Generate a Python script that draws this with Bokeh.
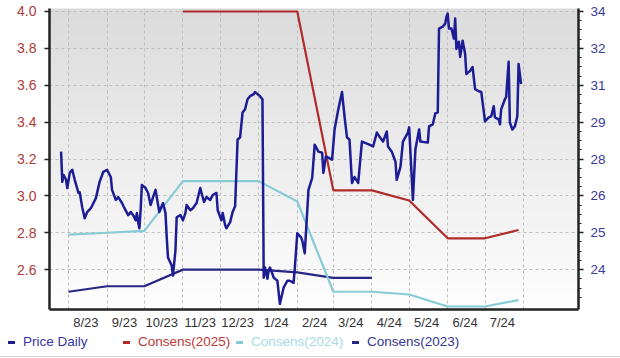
import numpy as np
from bokeh.plotting import figure
from bokeh.layouts import column
from bokeh.models import (Range1d, LinearAxis, FixedTicker, BoxAnnotation,
                          PrintfTickFormatter, Div)
from bokeh.embed import file_html
from bokeh.resources import INLINE

# ---------------- data ----------------
price_dates = [
    "2023-07-26", "2023-07-27", "2023-07-28", "2023-07-30", "2023-07-31", "2023-08-02", "2023-08-04",
    "2023-08-06", "2023-08-09", "2023-08-10", "2023-08-12", "2023-08-14", "2023-08-16", "2023-08-19",
    "2023-08-23", "2023-08-26", "2023-08-29", "2023-09-01", "2023-09-04", "2023-09-05", "2023-09-08",
    "2023-09-10", "2023-09-13", "2023-09-15", "2023-09-18", "2023-09-20", "2023-09-22", "2023-09-24",
    "2023-09-25", "2023-09-26", "2023-09-27", "2023-09-28", "2023-09-29", "2023-10-02", "2023-10-04",
    "2023-10-06", "2023-10-08", "2023-10-10", "2023-10-11", "2023-10-13", "2023-10-16", "2023-10-18",
    "2023-10-19", "2023-10-20", "2023-10-23", "2023-10-24", "2023-10-26", "2023-10-27", "2023-10-30",
    "2023-11-01", "2023-11-03", "2023-11-04", "2023-11-07", "2023-11-09", "2023-11-12", "2023-11-15",
    "2023-11-16", "2023-11-18", "2023-11-20", "2023-11-23", "2023-11-25", "2023-11-28", "2023-11-29",
    "2023-12-02", "2023-12-03", "2023-12-05", "2023-12-06", "2023-12-09", "2023-12-11", "2023-12-13",
    "2023-12-15", "2023-12-17", "2023-12-19", "2023-12-21", "2023-12-23", "2023-12-25", "2023-12-28",
    "2023-12-29", "2023-12-31", "2024-01-02", "2024-01-04", "2024-01-05", "2024-01-06", "2024-01-08",
    "2024-01-09", "2024-01-10", "2024-01-12", "2024-01-13", "2024-01-16", "2024-01-18", "2024-01-21",
    "2024-01-24", "2024-01-26", "2024-01-29", "2024-01-30", "2024-02-01", "2024-02-04", "2024-02-05",
    "2024-02-07", "2024-02-10", "2024-02-13", "2024-02-15", "2024-02-18", "2024-02-21", "2024-02-22",
    "2024-02-24", "2024-02-26", "2024-02-29", "2024-03-02", "2024-03-05", "2024-03-08", "2024-03-10",
    "2024-03-12", "2024-03-14", "2024-03-16", "2024-03-18", "2024-03-21", "2024-03-24", "2024-03-26",
    "2024-03-30", "2024-04-02", "2024-04-05", "2024-04-07", "2024-04-10", "2024-04-13", "2024-04-14",
    "2024-04-17", "2024-04-20", "2024-04-21", "2024-04-24", "2024-04-26", "2024-04-30", "2024-05-01",
    "2024-05-04", "2024-05-06", "2024-05-09", "2024-05-10", "2024-05-16", "2024-05-17", "2024-05-20",
    "2024-05-22", "2024-05-24", "2024-05-25", "2024-05-28", "2024-05-30", "2024-05-31", "2024-06-01",
    "2024-06-02", "2024-06-04", "2024-06-06", "2024-06-07", "2024-06-08", "2024-06-10", "2024-06-11",
    "2024-06-13", "2024-06-15", "2024-06-16", "2024-06-19", "2024-06-21", "2024-06-23", "2024-06-26",
    "2024-06-28", "2024-07-01", "2024-07-04", "2024-07-06", "2024-07-08", "2024-07-09", "2024-07-12",
    "2024-07-13", "2024-07-14", "2024-07-17", "2024-07-18", "2024-07-20", "2024-07-21", "2024-07-23",
    "2024-07-25", "2024-07-27", "2024-07-28", "2024-07-30",
]
price_values = [
    28.57, 27.40, 27.67, 27.48, 27.16, 27.75, 27.87,
    27.48, 26.97, 27.00, 26.42, 25.99, 26.23, 26.38,
    26.77, 27.40, 27.79, 27.87, 27.59, 27.09, 26.70,
    26.81, 26.58, 26.38, 26.11, 26.23, 26.11, 25.91,
    26.19, 25.84, 25.60, 26.30, 27.28, 27.16, 26.97,
    26.50, 26.81, 27.09, 26.81, 26.23, 26.58, 26.19,
    25.25, 24.47, 24.16, 23.77, 24.74, 26.03, 26.11,
    25.91, 26.19, 26.50, 26.30, 26.38, 26.58, 27.16,
    26.97, 26.62, 26.81, 26.70, 26.89, 26.97, 26.30,
    25.91, 26.19, 25.72, 25.60, 25.84, 26.23, 26.46,
    29.04, 29.12, 30.09, 30.21, 30.60, 30.72, 30.80,
    30.88, 30.80, 30.72, 30.60, 23.69, 24.08, 23.65,
    23.96, 24.08, 23.84, 23.69, 23.57, 22.67, 23.30,
    23.57, 23.57, 23.49, 24.04, 25.41, 25.25, 25.13,
    24.63, 27.09, 27.55, 28.84, 28.57, 28.53, 27.75,
    28.38, 28.34, 28.26, 29.43, 30.21, 30.88, 29.94,
    29.12, 29.04, 27.36, 27.59, 27.36, 28.96, 28.92,
    28.84, 28.77, 29.31, 29.16, 28.96, 29.35, 28.77,
    28.57, 28.18, 27.48, 27.98, 28.96, 29.31, 29.51,
    26.70, 28.65, 29.43, 28.96, 28.92, 29.55, 29.63,
    30.05, 30.09, 33.34, 33.41, 33.53, 33.80, 33.92,
    33.34, 33.34, 32.95, 33.73, 32.55, 32.83, 32.24,
    32.87, 32.36, 31.58, 31.70, 31.85, 30.99, 30.91,
    30.88, 29.74, 29.90, 29.94, 30.33, 29.90, 29.82,
    29.63, 30.21, 30.60, 30.68, 32.05, 29.70, 29.43,
    29.55, 29.94, 31.97, 31.19,
]

cons2025_dates = ["2023-11-01", "2024-02-01", "2024-03-01", "2024-04-01", "2024-05-01",
                  "2024-06-01", "2024-07-01", "2024-07-28"]
cons2025_values = [4.00, 4.00, 3.03, 3.03, 2.975, 2.77, 2.77, 2.815]

cons2024_dates = ["2023-08-01", "2023-09-01", "2023-10-01", "2023-11-01", "2024-01-01",
                  "2024-02-01", "2024-03-01", "2024-04-01", "2024-05-01", "2024-06-01",
                  "2024-07-01", "2024-07-28"]
cons2024_values = [2.79, 2.80, 2.81, 3.08, 3.08, 2.97, 2.48, 2.48, 2.465, 2.40, 2.40, 2.435]

cons2023_dates = ["2023-08-01", "2023-09-01", "2023-10-01", "2023-11-01", "2024-01-01",
                  "2024-02-01", "2024-03-01", "2024-04-01"]
cons2023_values = [2.48, 2.51, 2.51, 2.60, 2.60, 2.585, 2.555, 2.555]

month_labels = ["8/23", "9/23", "10/23", "11/23", "12/23", "1/24", "2/24",
                "3/24", "4/24", "5/24", "6/24", "7/24"]
label_dates = ["2023-08-15", "2023-09-15", "2023-10-15", "2023-11-15", "2023-12-15",
               "2024-01-15", "2024-02-15", "2024-03-15", "2024-04-15", "2024-05-15",
               "2024-06-15", "2024-07-15"]
grid_dates = ["2023-08-01", "2023-09-01", "2023-10-01", "2023-11-01", "2023-12-01",
              "2024-01-01", "2024-02-01", "2024-03-01", "2024-04-01", "2024-05-01",
              "2024-06-01", "2024-07-01", "2024-08-01"]

left_ticks = [2.6, 2.8, 3.0, 3.2, 3.4, 3.6, 3.8, 4.0]
right_labels = ["24", "25", "26", "28", "29", "31", "32", "34"]

legend_names = ["Price Daily", "Consens(2025)", "Consens(2024)", "Consens(2023)"]


def ms(dates):
    return np.array(dates, dtype="datetime64[ms]").astype("int64").astype(float)


DAY = 86400000.0
FONT = "Liberation Sans"

# ---------------- main chart ----------------
W, H = 620, 332
BL, BR, BT, BB = 49, 42, 8, 22
FW, FH = W - BL - BR, H - BT - BB

x0 = ms(["2023-08-01"])[0] - 15.3 * DAY
x1 = ms(["2024-08-01"])[0] + 44.2 * DAY
ylo, yhi = 2.3838, 4.0162
plo = 24 + (ylo - 2.6) / 0.14
phi = 24 + (yhi - 2.6) / 0.14

p = figure(width=W, height=H, output_backend="svg", toolbar_location=None,
           x_range=Range1d(x0, x1), y_range=Range1d(ylo, yhi),
           min_border_left=BL, min_border_right=BR, min_border_top=BT, min_border_bottom=BB)
p.extra_y_ranges = {"price": Range1d(plo, phi)}
p.outline_line_color = None
p.background_fill_color = "#ffffff"
p.border_fill_color = "#ffffff"

# soft vertical gradient background inside the plot area
band = 6
for i in range(0, (FH + band - 1) // band):
    c0, c1 = i * band, min(FH, (i + 1) * band)
    page_y = BT + (c0 + c1) / 2
    g = int(round(min(255, 218 + 37 * page_y / 320)))
    p.add_layout(BoxAnnotation(left=0, right=FW, left_units="screen", right_units="screen",
                               top=FH - c0, bottom=FH - c1 - 1, top_units="screen", bottom_units="screen",
                               fill_color="#%02x%02x%02x" % (g, g, g), fill_alpha=1.0,
                               line_alpha=0, level="image"))

# x axis
xa = p.xaxis[0]
xt = ms(label_dates).tolist()
xa.ticker = FixedTicker(ticks=xt)
xa.major_label_overrides = {t: l for t, l in zip(xt, month_labels)}
xa.major_tick_line_color = None
xa.minor_tick_line_color = None
xa.major_tick_out = 0
xa.major_tick_in = 0
xa.axis_line_width = 2.5
xa.axis_line_color = "#222222"
xa.major_label_text_font = FONT
xa.major_label_text_font_size = "13px"
xa.major_label_text_color = "#333333"
xa.major_label_standoff = 5

# left axis
ya = p.yaxis[0]
ya.ticker = FixedTicker(ticks=left_ticks)
ya.formatter = PrintfTickFormatter(format="%.1f")
ya.minor_tick_line_color = None
ya.major_tick_in = 0
ya.major_tick_out = 5
ya.major_tick_line_width = 1.5
ya.major_tick_line_color = "#222222"
ya.axis_line_width = 2.5
ya.axis_line_color = "#222222"
ya.major_label_text_font = FONT
ya.major_label_text_font_size = "14px"
ya.major_label_text_color = "#b03a3a"
ya.major_label_standoff = 8

# right axis (price)
rt = [24 + k * 10 / 7 for k in range(8)]
rminor = [24 + k * 10 / 28 for k in range(-4, 34) if k % 4 != 0]
ra = LinearAxis(y_range_name="price", ticker=FixedTicker(ticks=rt, minor_ticks=rminor))
ra.major_label_overrides = {t: l for t, l in zip(rt, right_labels)}
ra.major_tick_in = 0
ra.major_tick_out = 5
ra.minor_tick_in = 0
ra.minor_tick_out = 3
ra.major_tick_line_width = 1.5
ra.minor_tick_line_width = 1
ra.major_tick_line_color = "#222222"
ra.minor_tick_line_color = "#222222"
ra.axis_line_width = 2.5
ra.axis_line_color = "#222222"
ra.major_label_text_font = FONT
ra.major_label_text_font_size = "13.5px"
ra.major_label_text_color = "#3a3a9a"
ra.major_label_standoff = 7
p.add_layout(ra, "right")

# grids
p.xgrid.ticker = FixedTicker(ticks=ms(grid_dates).tolist())
for g in (p.xgrid, p.ygrid):
    g.grid_line_color = "#bdbdbd"
    g.grid_line_dash = "3 3"
    g.grid_line_width = 1

# series
C_PRICE, C25, C24, C23 = "#1c1c94", "#b02a2a", "#86cbd6", "#262684"
p.line(ms(cons2023_dates), cons2023_values, line_color=C23, line_width=2.2)
p.line(ms(cons2024_dates), cons2024_values, line_color=C24, line_width=2.2)
p.line(ms(cons2025_dates), cons2025_values, line_color=C25, line_width=2.2)
p.line(ms(price_dates), price_values, y_range_name="price", line_color=C_PRICE,
       line_width=2.5, line_join="round")

# ---------------- legend strip (HTML) ----------------
LH = 358 - H
legend_line_colors = [C_PRICE, C25, C24, C23]
legend_text_colors = ["#3535a0", "#c03838", "#a6dbe3", "#353590"]
legend_x = [8, 123, 236, 352]
parts = []
for name, lc, tc, lx in zip(legend_names, legend_line_colors, legend_text_colors, legend_x):
    parts.append(
        f'<span style="position:absolute;left:{lx}px;top:9px;width:7px;height:3px;'
        f'background:{lc};"></span>'
        f'<span style="position:absolute;left:{lx + 15}px;top:2px;line-height:16px;'
        f'white-space:nowrap;color:{tc};">{name}</span>')
html = (f'<div style="position:relative;width:{W}px;height:{LH}px;font-family:\'{FONT}\';'
        f'font-size:13.5px;background:#ffffff;">' + "".join(parts) +
        f'<div style="position:absolute;left:0;top:24px;width:{W}px;height:1px;'
        f'background:#d4d4d4;"></div></div>')
legend_div = Div(text=html, width=W, height=LH, margin=0)

layout = column(p, legend_div, spacing=0)
open("out.html", "w").write(file_html(layout, INLINE))
